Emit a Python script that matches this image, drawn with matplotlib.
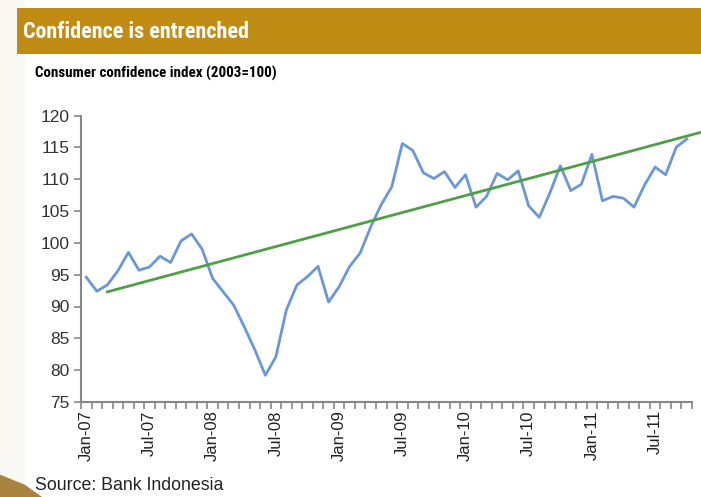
import numpy as np
import matplotlib
matplotlib.use("Agg")
import matplotlib.pyplot as plt
import matplotlib.font_manager as fm
from matplotlib.patches import Rectangle, Polygon

# Monthly consumer confidence index, Jan-2007 .. Oct-2011 (2003 = 100)
months = ["Jan", "Feb", "Mar", "Apr", "May", "Jun",
          "Jul", "Aug", "Sep", "Oct", "Nov", "Dec"]
years = ["07", "08", "09", "10", "11"]
periods = [f"{m}-{y}" for y in years for m in months][:58]

confidence = [
    94.6, 92.4, 93.4, 95.6, 98.5, 95.7, 96.2, 97.9, 96.9, 100.3, 101.4, 99.0,
    94.4, 92.3, 90.2, 86.8, 83.2, 79.2, 82.1, 89.5, 93.4, 94.7, 96.3, 90.7,
    93.1, 96.3, 98.4, 102.5, 106.0, 108.8, 115.6, 114.5, 111.0, 110.1, 111.2, 108.7,
    110.7, 105.6, 107.3, 110.9, 109.9, 111.3, 105.8, 104.0, 107.8, 112.1, 108.2, 109.2,
    113.9, 106.6, 107.3, 107.0, 105.6, 109.1, 111.9, 110.7, 115.0, 116.3,
]

# Linear trend: start (Mar-07) and end points as (month index, value)
trend_x = [2, 60]
trend_y = [92.3, 118.1]

y_ticks = [75, 80, 85, 90, 95, 100, 105, 110, 115, 120]
label_step = 6

title = "Confidence is entrenched"
subtitle = "Consumer confidence index (2003=100)"
source = "Source: Bank Indonesia"


def has_bold(name):
    for f in fm.fontManager.ttflist:
        if f.name == name and f.style == "normal":
            w = f.weight if isinstance(f.weight, int) else (700 if f.weight == "bold" else 400)
            if w >= 700:
                return True
    return False


# narrow sans with a real bold face for the headings
narrow_pick = next((n for n in ["Liberation Sans Narrow", "Arial Narrow", "Archivo Narrow",
                                "Roboto Condensed", "PT Sans Narrow", "Pragati Narrow",
                                "IBM Plex Sans Condensed", "Fira Sans Condensed",
                                "Encode Sans Condensed", "Barlow Semi Condensed",
                                "Asap Condensed", "Saira SemiCondensed"]
                    if has_bold(n)), "Liberation Sans")
narrow = [narrow_pick, "DejaVu Sans"]
sans = ["Liberation Sans", "DejaVu Sans"]

fig = plt.figure(figsize=(7.01, 4.97), dpi=100)
fig.patch.set_facecolor("white")

# faint tint along the left edge and dark wedge at the bottom-left corner
fig.patches.append(Rectangle((0, 0), 0.035, 1, transform=fig.transFigure,
                             facecolor="#f6f4ec", edgecolor="none", alpha=0.6, zorder=0))
fig.patches.append(Polygon([(0, 0), (0, 0.045), (0.035, 0.025), (0.06, 0)],
                           closed=True, transform=fig.transFigure,
                           facecolor="#a8823e", edgecolor="none", zorder=0))

# title banner
fig.patches.append(Rectangle((17 / 701, 1 - 54 / 497), 1, 46 / 497,
                             transform=fig.transFigure, facecolor="#c18c13",
                             edgecolor="none", zorder=1))
t_title = fig.text(23 / 701, 1 - 32 / 497, title, color="white", fontsize=16.5,
                   fontweight="bold", family=narrow, va="center", ha="left", zorder=2)
t_sub = fig.text(35 / 701, 1 - 73 / 497, subtitle, color="black", fontsize=11.3,
                 fontweight="bold", family=narrow, va="center", ha="left")
fig.text(35 / 701, 1 - 485 / 497, source, color="#222222", fontsize=12.8,
         family=sans, va="center", ha="left")

# size the headings to their set widths in pixels
renderer = fig.canvas.get_renderer()
for txt, width_px in ((t_title, 225), (t_sub, 242)):
    w = txt.get_window_extent(renderer).width
    txt.set_fontsize(txt.get_fontsize() * width_px / w)

ax = fig.add_axes([81 / 701, 1 - 402 / 497, (692 - 81) / 701, (402 - 115.5) / 497])
ax.set_facecolor("none")

x = np.arange(len(confidence))
ax.plot(x, confidence, color="#6b97d6", lw=2.0, solid_joinstyle="round", zorder=3)
ax.plot(trend_x, trend_y, color="#4e9f46", lw=2.0, clip_on=False, zorder=4)

ax.set_xlim(-0.5, len(confidence) - 0.5)
ax.set_ylim(y_ticks[0], y_ticks[-1])

ax.set_yticks(y_ticks)
ax.set_yticklabels([str(v) for v in y_ticks], family=sans, fontsize=12.5, color="#333333")

major = list(range(0, len(confidence), label_step))
ax.set_xticks(major)
ax.set_xticklabels([periods[i] for i in major], rotation=90, family=sans,
                   fontsize=12, color="#222222")
ax.set_xticks(np.arange(-0.5, len(confidence), 1), minor=True)
ax.tick_params(axis="x", which="major", length=0, pad=6)
ax.tick_params(axis="x", which="minor", length=5, width=1.2, color="#888888")
ax.tick_params(axis="y", length=5, width=1.2, color="#888888", pad=3)

for side in ("top", "right"):
    ax.spines[side].set_visible(False)
for side in ("left", "bottom"):
    ax.spines[side].set_color("#888888")
    ax.spines[side].set_linewidth(1.5)

fig.savefig("out.png", dpi=100)
